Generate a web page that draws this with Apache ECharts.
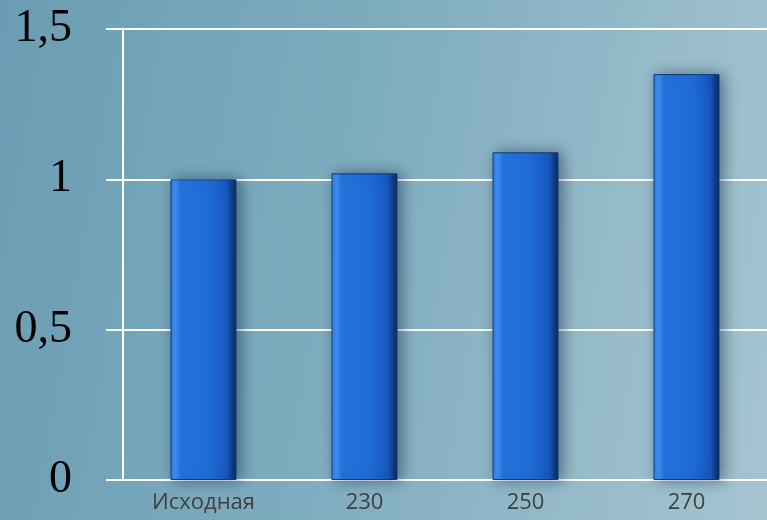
<!DOCTYPE html>
<html>
<head>
<meta charset="utf-8">
<script src="https://cdn.jsdelivr.net/npm/echarts@6/dist/echarts.min.js"></script>
<style>
  html, body { margin: 0; padding: 0; }
  body {
    width: 767px; height: 520px; overflow: hidden;
    background: linear-gradient(100deg, #6a9db3 0%, #7eacbf 45%, #98bccb 80%, #a4c4d0 100%);
  }
  #chart { width: 767px; height: 520px; }
</style>
</head>
<body>
<div id="chart"></div>
<script>
// Categories along the x axis and the bar heights
const categories = ['Исходная', '230', '250', '270'];
const values = [1.0, 1.02, 1.09, 1.35];
// Value axis ticks
const yMin = 0;
const yMax = 1.5;
const yStep = 0.5;

const chart = echarts.init(document.getElementById('chart'), null, { renderer: 'canvas' });

const barFill = new echarts.graphic.LinearGradient(0, 0, 1, 0, [
  { offset: 0.0, color: '#2f7fe6' },
  { offset: 0.08, color: '#3d90f2' },
  { offset: 0.16, color: '#2474de' },
  { offset: 0.6, color: '#1f6bd6' },
  { offset: 0.86, color: '#1757bd' },
  { offset: 0.93, color: '#103f88' },
  { offset: 1.0, color: '#0a2a5c' }
]);

chart.setOption({
  backgroundColor: 'transparent',
  animation: false,
  grid: { left: 123, right: -1, top: 29, bottom: 40, containLabel: false },
  xAxis: {
    type: 'category',
    data: categories,
    axisLine: { show: true, lineStyle: { color: '#ffffff', width: 2 } },
    axisTick: { show: false },
    axisLabel: {
      color: '#3f3f3f',
      fontFamily: 'Open Sans',
      fontSize: 22,
      margin: 12
    },
    splitLine: { show: false }
  },
  yAxis: {
    type: 'value',
    min: yMin,
    max: yMax,
    interval: yStep,
    axisLine: { show: true, lineStyle: { color: '#ffffff', width: 2 } },
    axisTick: { show: true, length: 17, lineStyle: { color: '#ffffff', width: 2 } },
    axisLabel: {
      color: '#000000',
      fontFamily: 'Liberation Serif',
      fontSize: 46,
      margin: 51,
      formatter: v => String(v).replace('.', ',')
    },
    splitLine: { show: true, lineStyle: { color: '#ffffff', width: 2 } }
  },
  series: [{
    type: 'bar',
    data: values,
    barWidth: 66,
    itemStyle: {
      color: barFill,
      borderColor: '#0e3b7a',
      borderWidth: 1,
      shadowColor: 'rgba(0, 20, 50, 0.45)',
      shadowBlur: 14,
      shadowOffsetX: 4,
      shadowOffsetY: 0
    }
  }]
});
</script>
</body>
</html>
